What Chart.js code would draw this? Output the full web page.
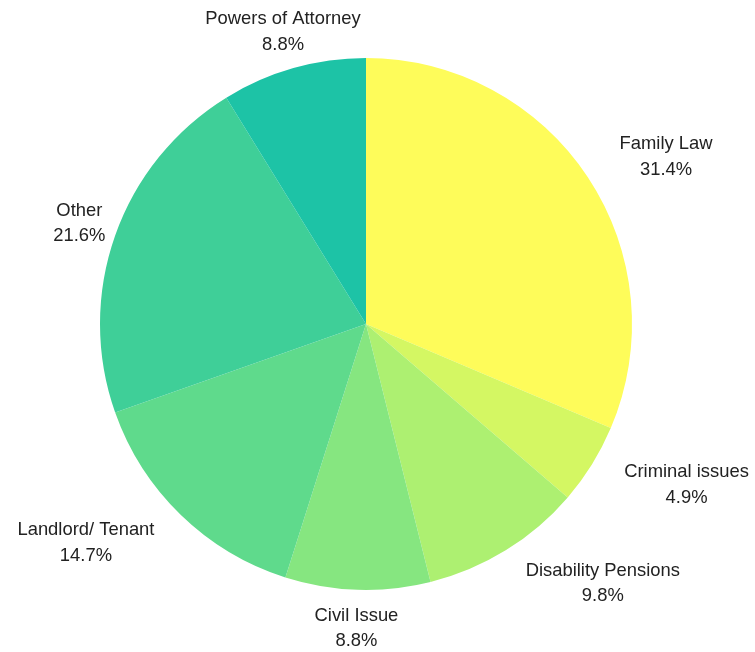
<!DOCTYPE html>
<html>
<head>
<meta charset="utf-8">
<script src="https://cdn.jsdelivr.net/npm/chart.js@4.4.1/dist/chart.umd.min.js"></script>
<style>
  html, body { margin: 0; padding: 0; background: #ffffff; }
  #wrap { width: 755px; height: 652px; position: relative; }
</style>
</head>
<body>
<div id="wrap"><canvas id="c"></canvas></div>
<script>
const categories = ["Family Law", "Criminal issues", "Disability Pensions", "Civil Issue", "Landlord/ Tenant", "Other", "Powers of Attorney"];
const shares = [31.4, 4.9, 9.8, 8.8, 14.7, 21.6, 8.8];
const sliceColors = ["#fefc5a", "#d4f763", "#adf071", "#86e680", "#5fda8c", "#3fcf98", "#1dc3a6"];

const outLabels = {
  id: 'outLabels',
  afterDatasetsDraw(chart) {
    const ctx = chart.ctx;
    const meta = chart.getDatasetMeta(0);
    const total = shares.reduce((a, b) => a + b, 0);
    ctx.save();
    ctx.font = '18.4px "Liberation Sans", Arial, sans-serif';
    ctx.fillStyle = '#222222';
    ctx.textAlign = 'center';
    ctx.textBaseline = 'middle';
    const gap = 25.5;
    meta.data.forEach((arc, i) => {
      const p = arc.getProps(['x', 'y', 'startAngle', 'endAngle', 'outerRadius'], true);
      const mid = (p.startAngle + p.endAngle) / 2;
      const r = p.outerRadius + 38;
      const ax = p.x + Math.cos(mid) * r;
      const ay = p.y + Math.sin(mid) * r;
      const lines = [categories[i], (shares[i] / total * 100).toFixed(1) + '%'];
      const w = Math.max(...lines.map(t => ctx.measureText(t).width));
      const hh = 25;
      let cx = ax;
      const nx = Math.max(cx - w / 2, Math.min(p.x, cx + w / 2));
      const ny = Math.max(ay - hh, Math.min(p.y, ay + hh));
      const d = Math.hypot(nx - p.x, ny - p.y);
      if (d < p.outerRadius) {
        cx = ax + (ax >= p.x ? w / 2 : -w / 2);
      }
      ctx.fillText(lines[0], cx, ay - gap / 2 + 0.5);
      ctx.fillText(lines[1], cx, ay + gap / 2 + 0.5);
    });
    ctx.restore();
  }
};

new Chart(document.getElementById('c'), {
  type: 'pie',
  data: {
    labels: categories,
    datasets: [{
      data: shares,
      backgroundColor: sliceColors,
      borderWidth: 0
    }]
  },
  options: {
    responsive: true,
    maintainAspectRatio: false,
    animation: false,
    layout: { padding: { top: 58, bottom: 62, left: 100, right: 123 } },
    plugins: {
      legend: { display: false },
      tooltip: { enabled: false }
    }
  },
  plugins: [outLabels]
});
</script>
</body>
</html>
